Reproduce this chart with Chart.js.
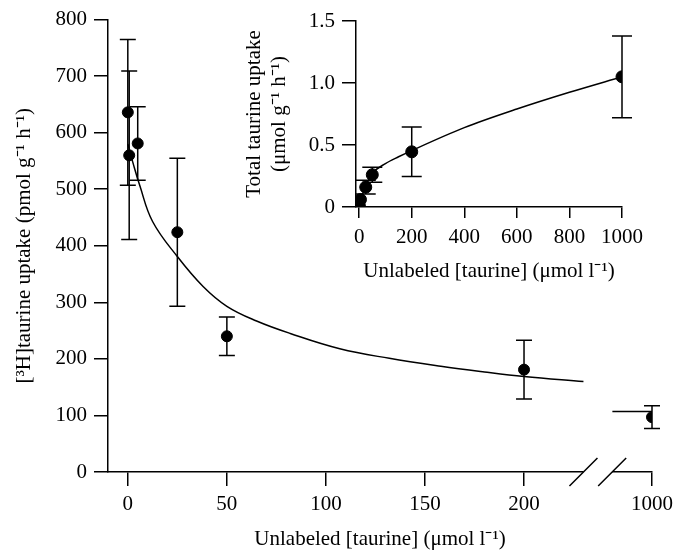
<!DOCTYPE html>
<html>
<head>
<meta charset="utf-8">
<script src="https://cdn.jsdelivr.net/npm/chart.js@4/dist/chart.umd.min.js"></script>
<style>
  html, body { margin: 0; padding: 0; background: #fff; }
  #wrap { position: relative; width: 687px; height: 555px; }
  #main { position: absolute; left: 0; top: 0; }
  #inset { position: absolute; left: 230px; top: 0; }
</style>
</head>
<body>
<div id="wrap">
  <canvas id="main" width="687" height="555"></canvas>
  <canvas id="inset" width="457" height="300"></canvas>
</div>
<script>
// main panel: [3H]taurine uptake vs unlabeled taurine
const mainConc = [0, 0.7, 5, 25, 50, 200, 1000];
const mainUptake = [636, 560, 581, 424, 240, 181, 97];
const mainErr = [129, 149, 65, 131, 34, 52, 20];

const fitConc = [0, 2.5, 6, 12.5, 25, 38, 50, 65, 82, 107, 132, 158, 180, 200, 230];
const fitUptake = [580, 548, 507, 443, 381, 328, 293, 267, 245, 218, 201, 187, 177, 169, 160];
const fitTailConc = [900, 1000];
const fitTailUptake = [107, 107];

const mainXTicks = [0, 50, 100, 150, 200, 1000];
const mainYTicks = [0, 100, 200, 300, 400, 500, 600, 700, 800];

// inset: total taurine uptake
const insetConc = [0, 0.7, 5, 25, 50, 200, 1000];
const insetUptake = [0, 0.01, 0.06, 0.16, 0.26, 0.445, 1.05];
const insetErr = [0, 0, 0, 0.055, 0.06, 0.2, 0.33];

const insetFitConc = [0, 5, 25, 50, 100, 150, 200, 400, 600, 800, 1000];
const insetFitUptake = [0, 0.05, 0.17, 0.27, 0.35, 0.405, 0.455, 0.64, 0.79, 0.925, 1.05];

const insetXTicks = [0, 200, 400, 600, 800, 1000];
const insetYTicks = [0, 0.5, 1.0, 1.5];

// axis break: 1000 is drawn right after the break
const BREAK_POS = 264.6;
const BREAK_SCALE = 0.2;
const breakMarks = [230, 244.5];
const breakX = v => v <= 250 ? v : BREAK_POS + (v - 1000) * BREAK_SCALE;

const FONT = { family: '"Liberation Serif", "Times New Roman", serif', size: 21 };
Chart.defaults.font = FONT;
Chart.defaults.color = '#000';

const pts = (xs, ys, fx = v => v) => xs.map((x, i) => ({ x: fx(x), y: ys[i] }));

const errorBars = {
  id: 'errorBars',
  afterDatasetsDraw(chart, args, opts) {
    const ctx = chart.ctx;
    const ys = chart.scales.y;
    ctx.save();
    ctx.strokeStyle = '#000';
    ctx.lineWidth = 1.5;
    chart.data.datasets.forEach((ds, i) => {
      if (!ds.errors) return;
      const meta = chart.getDatasetMeta(i);
      meta.data.forEach((el, j) => {
        const e = ds.errors[j];
        if (!e) return;
        const v = ds.data[j].y;
        const t = ys.getPixelForValue(v + e);
        const b = ys.getPixelForValue(v - e);
        const w = opts.cap;
        ctx.beginPath();
        ctx.moveTo(el.x, t); ctx.lineTo(el.x, b);
        ctx.moveTo(el.x - w, t); ctx.lineTo(el.x + w, t);
        ctx.moveTo(el.x - w, b); ctx.lineTo(el.x + w, b);
        ctx.stroke();
      });
    });
    ctx.restore();
  }
};

const axisBreak = {
  id: 'axisBreak',
  afterDraw(chart) {
    const ctx = chart.ctx;
    const xs = chart.scales.x;
    const y0 = chart.chartArea.bottom;
    const p1 = xs.getPixelForValue(breakMarks[0]);
    const p2 = xs.getPixelForValue(breakMarks[1]);
    ctx.save();
    ctx.fillStyle = '#fff';
    ctx.fillRect(p1, y0 - 3, p2 - p1, 6);
    ctx.strokeStyle = '#000';
    ctx.lineWidth = 1.5;
    ctx.beginPath();
    [p1, p2].forEach(p => {
      ctx.moveTo(p - 14, y0 + 14);
      ctx.lineTo(p + 14, y0 - 14);
    });
    ctx.stroke();
    ctx.restore();
  }
};

const axisStyle = (tickLen) => ({
  grid: { drawOnChartArea: false, color: '#000', lineWidth: 1.5, tickLength: tickLen },
  border: { color: '#000', width: 1.5 }
});

new Chart(document.getElementById('main'), {
  type: 'scatter',
  data: {
    datasets: [
      {
        type: 'line',
        data: pts(fitConc, fitUptake),
        borderColor: '#000', borderWidth: 1.5,
        pointRadius: 0, tension: 0.4, fill: false
      },
      {
        type: 'line',
        data: pts(fitTailConc, fitTailUptake, breakX),
        borderColor: '#000', borderWidth: 1.5,
        pointRadius: 0, fill: false
      },
      {
        data: pts(mainConc, mainUptake, breakX),
        errors: mainErr,
        backgroundColor: '#000', borderColor: '#000',
        pointRadius: 5.5, pointHoverRadius: 5.5
      }
    ]
  },
  options: {
    responsive: false,
    animation: false,
    events: [],
    layout: { padding: { top: 16, right: 35, left: 0, bottom: 0 } },
    plugins: {
      legend: { display: false },
      tooltip: { enabled: false },
      errorBars: { cap: 8 }
    },
    scales: {
      x: {
        type: 'linear', min: -10, max: BREAK_POS,
        ...axisStyle(14),
        afterBuildTicks: s => { s.ticks = mainXTicks.map(v => ({ value: breakX(v) })); },
        ticks: { padding: 6, callback: (v, i) => String(mainXTicks[i]) },
        afterFit: s => { s.height = 83; },
        title: { display: true, text: 'Unlabeled [taurine] (μmol l⁻¹)', padding: { top: 0, bottom: 3 } }
      },
      y: {
        type: 'linear', min: 0, max: 800,
        ...axisStyle(14),
        afterBuildTicks: s => { s.ticks = mainYTicks.map(v => ({ value: v })); },
        ticks: { padding: 7 },
        afterFit: s => { s.width = 108; },
        title: { display: true, text: '[³H]taurine uptake (pmol g⁻¹ h⁻¹)', padding: { top: 12, bottom: 0 } }
      }
    }
  },
  plugins: [errorBars, axisBreak]
});

new Chart(document.getElementById('inset'), {
  type: 'scatter',
  data: {
    datasets: [
      {
        type: 'line',
        data: pts(insetFitConc, insetFitUptake),
        borderColor: '#000', borderWidth: 1.5,
        pointRadius: 0, cubicInterpolationMode: 'monotone', fill: false
      },
      {
        data: pts(insetConc, insetUptake),
        errors: insetErr,
        backgroundColor: '#000', borderColor: '#000',
        pointRadius: 6, pointHoverRadius: 6
      }
    ]
  },
  options: {
    responsive: false,
    animation: false,
    events: [],
    layout: { padding: { top: 21, right: 65, left: 0, bottom: 0 } },
    plugins: {
      legend: { display: false },
      tooltip: { enabled: false },
      errorBars: { cap: 10 }
    },
    scales: {
      x: {
        type: 'linear', min: -12, max: 1000,
        ...axisStyle(11),
        afterBuildTicks: s => { s.ticks = insetXTicks.map(v => ({ value: v })); },
        ticks: { padding: 7, callback: v => String(v) },
        afterFit: s => { s.height = 93; },
        title: { display: true, text: 'Unlabeled [taurine] (μmol l⁻¹)', padding: { top: 0, bottom: 16 } }
      },
      y: {
        type: 'linear', min: 0, max: 1.5,
        ...axisStyle(14),
        afterBuildTicks: s => { s.ticks = insetYTicks.map(v => ({ value: v })); },
        ticks: { padding: 7, callback: v => v === 0 ? '0' : v.toFixed(1) },
        afterFit: s => { s.width = 126; },
        title: { display: true, text: ['Total taurine uptake', '(μmol g⁻¹ h⁻¹)'], padding: { top: 12, bottom: 0 } }
      }
    }
  },
  plugins: [errorBars]
});
</script>
</body>
</html>
